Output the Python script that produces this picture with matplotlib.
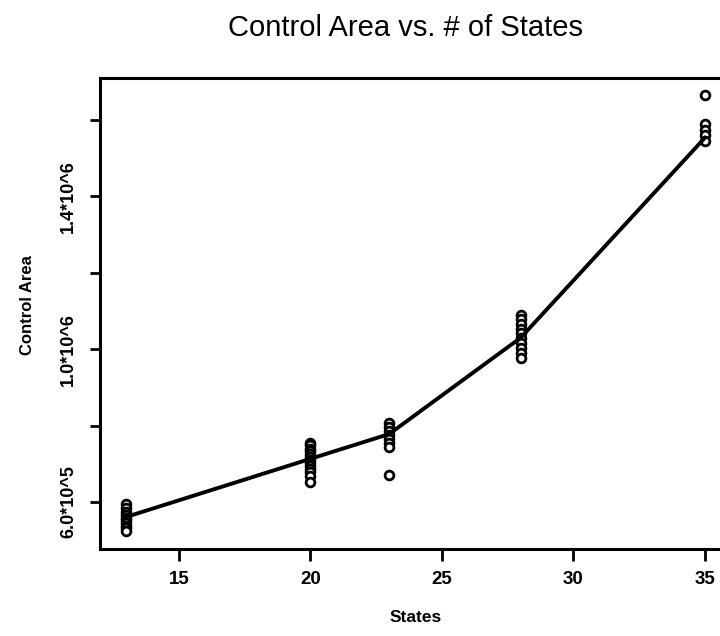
import matplotlib
matplotlib.use("Agg")
import matplotlib.pyplot as plt

# ---- data ----
states_13 = [595e3, 585e3, 575e3, 565e3, 558e3, 552e3, 545e3, 538e3, 531e3, 523e3]
states_20 = [755e3, 748e3, 740e3, 733e3, 725e3, 718e3, 710e3, 702e3, 695e3, 686e3, 678e3, 668e3, 653e3]
states_23 = [806e3, 796e3, 786e3, 776e3, 765e3, 754e3, 743e3, 671e3]
states_28 = [1090e3, 1078e3, 1066e3, 1054e3, 1042e3, 1030e3, 1016e3, 1002e3, 990e3, 978e3]
states_35 = [1665e3, 1590e3, 1575e3, 1560e3, 1545e3]

state_counts = [13, 20, 23, 28, 35]
mean_area = [561e3, 713e3, 778e3, 1030e3, 1553e3]

x_ticks = [15, 20, 25, 30, 35]
y_ticks = [6e5, 8e5, 1.0e6, 1.2e6, 1.4e6, 1.6e6]
y_tick_labels = ["6.0*10^5", "", "1.0*10^6", "", "1.4*10^6", ""]

groups = [states_13, states_20, states_23, states_28, states_35]

plt.rcParams['font.family'] = ['Liberation Sans', 'DejaVu Sans']

W, H = 720, 636
fig = plt.figure(figsize=(W / 100, H / 100), dpi=100)
left, right, top, bottom = 100, 731, 78, 549
ax = fig.add_axes([left / W, (H - bottom) / H, (right - left) / W, (bottom - top) / H])

for s, vals in zip(state_counts, groups):
    ax.plot([s] * len(vals), vals, linestyle='none', marker='o', markersize=6.3,
            markerfacecolor='white', markeredgecolor='black', markeredgewidth=2.0, zorder=3)

ax.plot(state_counts, mean_area, color='black', linewidth=2.8, zorder=4)

ax.set_xlim(12, 36)
ax.set_ylim(4.77e5, 1.71e6)

ax.set_xticks(x_ticks)
ax.set_xticklabels([str(t) for t in x_ticks], fontsize=13.5, fontweight='bold')
ax.set_yticks(y_ticks)
ax.set_yticklabels(y_tick_labels, fontsize=13, fontweight='bold', rotation=90, va='center')

ax.tick_params(axis='x', length=8.5, width=2.0, pad=7)
ax.tick_params(axis='y', length=7.5, width=2.0, pad=9)

for sp in ax.spines.values():
    sp.set_linewidth(2.2)

ax.set_xlabel("States", fontsize=12.5, fontweight='bold', labelpad=16)
ax.set_ylabel("Control Area", fontsize=12, fontweight='bold')
ax.yaxis.set_label_coords((35 - left) / (right - left), (bottom - 305) / (bottom - top))

fig.text(406 / W, 1 - 28 / H, "Control Area vs. # of States", fontsize=21,
         ha='center', va='center')

fig.savefig("out.png", dpi=100)
